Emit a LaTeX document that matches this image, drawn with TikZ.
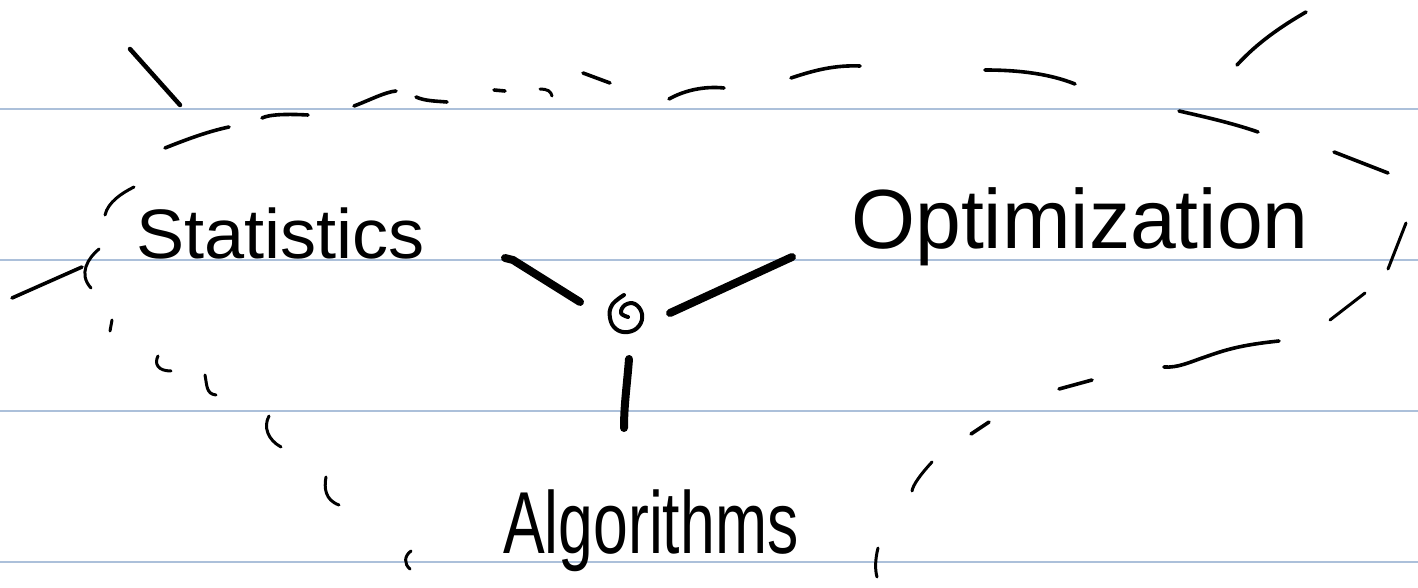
\documentclass[tikz,border=0pt]{standalone}
\usepackage{fontspec}
\setmainfont{Liberation Sans}
\usetikzlibrary{calc}
\definecolor{ruleblue}{RGB}{172,192,218}
\begin{document}
\begin{tikzpicture}[x=1pt,y=-1pt,
  ruled/.style={ruleblue,line width=1.8pt},
  pen/.style={black,line width=3.6pt,line cap=round,line join=round},
  fine pen/.style={black,line width=3pt,line cap=round,line join=round},
  thick pen/.style={black,line width=8pt,line cap=round,line join=round},
  word/.style={inner sep=0pt,anchor=base west}]
\useasboundingbox (0,0) rectangle (1418,588);
\fill[white] (0,0) rectangle (1418,588);
% ruled paper lines
\foreach \yy in {109,260,411,562} \draw[ruled] (0,\yy) -- (1418,\yy);
% words
\node[word] (stat) at (136,258) {\fontsize{70}{80}\selectfont\scalebox{1.03}[1]{Statistics}};
\node[word] (opt) at (851,248) {\fontsize{84}{96}\selectfont\scalebox{0.98}[1]{Optimization}};
\node[word] (alg) at (503,553) {\fontsize{88}{100}\selectfont\scalebox{0.71}[1]{Algorithms}};
% centre spiral
\node[inner sep=0pt,minimum size=36pt] (hub) at (626,313) {};
\draw[pen,line width=4pt] plot[smooth,tension=0.7] coordinates {(624,295) (612,305) (610,318) (616,329) (628,332) (639,326) (642,314) (635,304) (625,305) (621,313) (628,317)};
% connectors
\coordinate (s1) at (505,258);
\coordinate (s2) at (580,302);
\coordinate (o1) at (792,257);
\coordinate (o2) at (670,313);
\coordinate (a1) at (629,359);
\coordinate (a2) at (624,428);
\draw[thick pen] (s1) -- ++(8,2) -- (s2);
\draw[thick pen] (o1) -- (o2);
\draw[thick pen] (a1) .. controls (627,385) and (624,405) .. (a2);
% dashed loop strokes
\draw[pen,line width=4.5pt] (130,49) -- (180,105);
\draw[pen] (165,148) .. controls (190,138) and (210,131) .. (229,127);
\draw[pen] (262,118) .. controls (270,114) and (290,114) .. (308,115);
\draw[pen] (354,106) .. controls (370,100) and (385,92) .. (396,91);
\draw[pen] (416,97) .. controls (425,101) and (435,101) .. (447,102);
\draw[pen] (494,90) -- (505,91);
\draw[fine pen] (540,89) .. controls (547,89) and (551,91) .. (552,96);
\draw[pen] (583,73) -- (610,83);
\draw[pen] (669,99) .. controls (685,90) and (705,86) .. (724,88);
\draw[pen] (791,78) .. controls (815,70) and (835,65) .. (860,66);
\draw[pen] (985,70) .. controls (1020,70) and (1050,74) .. (1075,84);
\draw[pen] (1237,65) .. controls (1258,42) and (1282,26) .. (1306,12);
\draw[pen] (1179,111) .. controls (1210,118) and (1235,124) .. (1258,132);
\draw[pen] (1334,152) -- (1388,173);
\draw[fine pen] (1406,223) -- (1388,269);
\draw[fine pen] (1365,293) -- (1330,320);
\draw[pen] (1279,341) .. controls (1240,345) and (1225,350) .. (1205,357) .. controls (1190,362) and (1178,368) .. (1164,367);
\draw[pen] (1092,380) -- (1059,389);
\draw[pen] (989,422) -- (971,434);
\draw[fine pen] (932,462) .. controls (920,475) and (913,485) .. (912,491);
\draw[fine pen] (878,548) .. controls (875,560) and (875,570) .. (877,577);
\draw[fine pen] (411,551) .. controls (404,556) and (404,564) .. (410,569);
\draw[fine pen] (326,477) .. controls (324,488) and (325,500) .. (339,505);
\draw[fine pen] (269,416) .. controls (263,427) and (268,440) .. (281,447);
\draw[fine pen] (205,375) .. controls (207,385) and (206,394) .. (216,395);
\draw[fine pen] (158,356) .. controls (154,364) and (158,371) .. (171,371);
\draw[fine pen] (112,320) -- (110,331);
\draw[fine pen] (99,249) .. controls (88,258) and (78,274) .. (91,288);
\draw[pen] (12,298) -- (82,267);
\draw[fine pen] (134,187) .. controls (122,193) and (108,202) .. (105,215);
\end{tikzpicture}
\end{document}
